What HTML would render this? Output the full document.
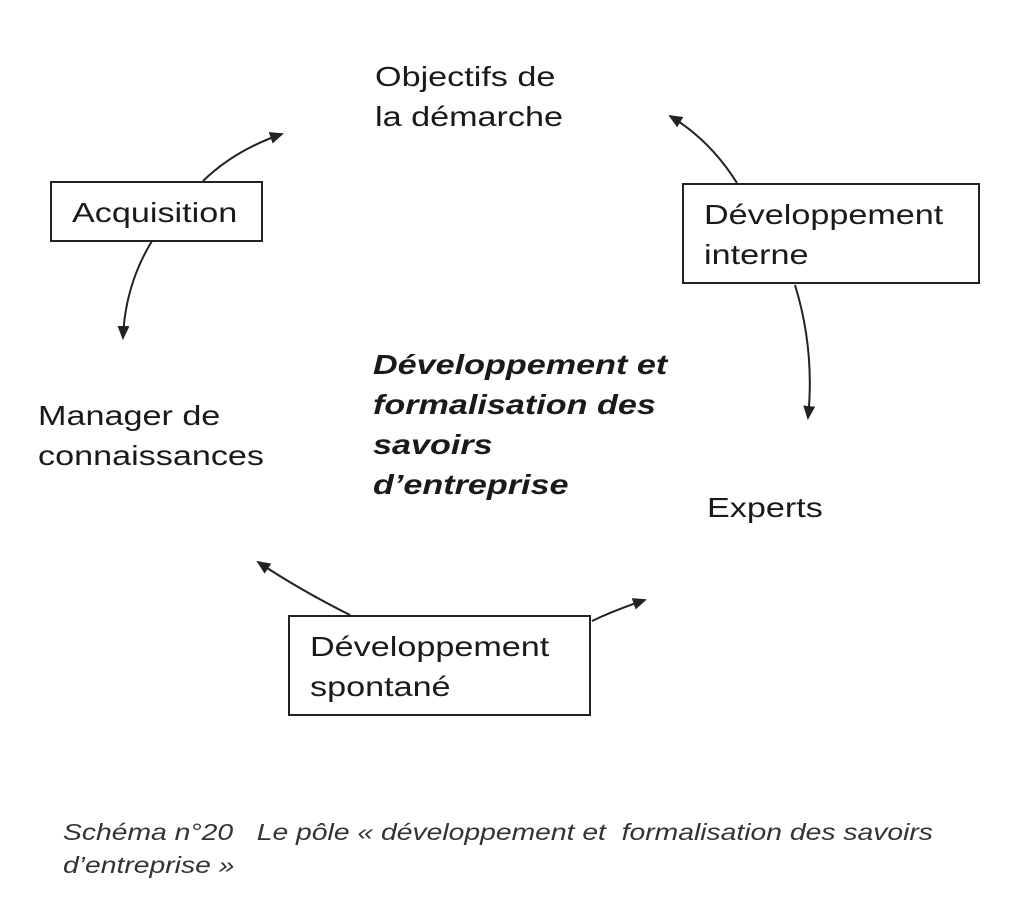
<!DOCTYPE html>
<html><head><meta charset="utf-8"><style>
body{margin:0;background:#fff;}
.c{position:relative;width:1024px;height:923px;overflow:hidden;font-family:"Liberation Sans",sans-serif;color:#1a1a1a;}
.t{position:absolute;font-size:28px;line-height:40px;white-space:nowrap;transform:scaleX(1.22);transform-origin:0 0;}
.b{position:absolute;border:2px solid #222;box-sizing:border-box;}
.cap{position:absolute;font-style:italic;font-size:23px;line-height:33px;white-space:nowrap;color:#333;transform:scaleX(1.23);transform-origin:0 0;}
</style></head><body><div class="c">
<svg width="1024" height="923" style="position:absolute;left:0;top:0">
<defs><marker id="a" markerWidth="14" markerHeight="12" refX="12" refY="6" orient="auto" markerUnits="userSpaceOnUse" viewBox="0 0 14 12"><path d="M0,0 L14,6 L0,12 z" fill="#222"/></marker></defs>
<g fill="none" stroke="#222" stroke-width="2" marker-end="url(#a)">
<path d="M203,181 Q235,150 282,134"/>
<path d="M152,241 Q125,285 123,338"/>
<path d="M737,183 Q710,140 670,116"/>
<path d="M795,285 Q815,350 808,418"/>
<path d="M350,615 Q300,590 258,562"/>
<path d="M592,621 Q615,610 645,600"/>
</g></svg>
<div class="t" style="left:375px;top:57px">Objectifs de<br>la démarche</div>
<div class="b" style="left:50px;top:181px;width:213px;height:61px"></div>
<div class="t" style="left:72px;top:193px">Acquisition</div>
<div class="b" style="left:682px;top:183px;width:298px;height:101px"></div>
<div class="t" style="left:704px;top:195px">Développement<br>interne</div>
<div class="t" style="left:373px;top:345px;font-weight:bold;font-style:italic">Développement et<br>formalisation des<br>savoirs<br>d’entreprise</div>
<div class="t" style="left:38px;top:396px">Manager de<br>connaissances</div>
<div class="t" style="left:707px;top:488px">Experts</div>
<div class="b" style="left:288px;top:615px;width:303px;height:101px"></div>
<div class="t" style="left:310px;top:627px">Développement<br>spontané</div>
<div class="cap" style="left:63px;top:816px">Schéma n°20&nbsp;&nbsp; Le pôle « développement et&nbsp; formalisation des savoirs<br>d’entreprise »</div>
</div></body></html>
